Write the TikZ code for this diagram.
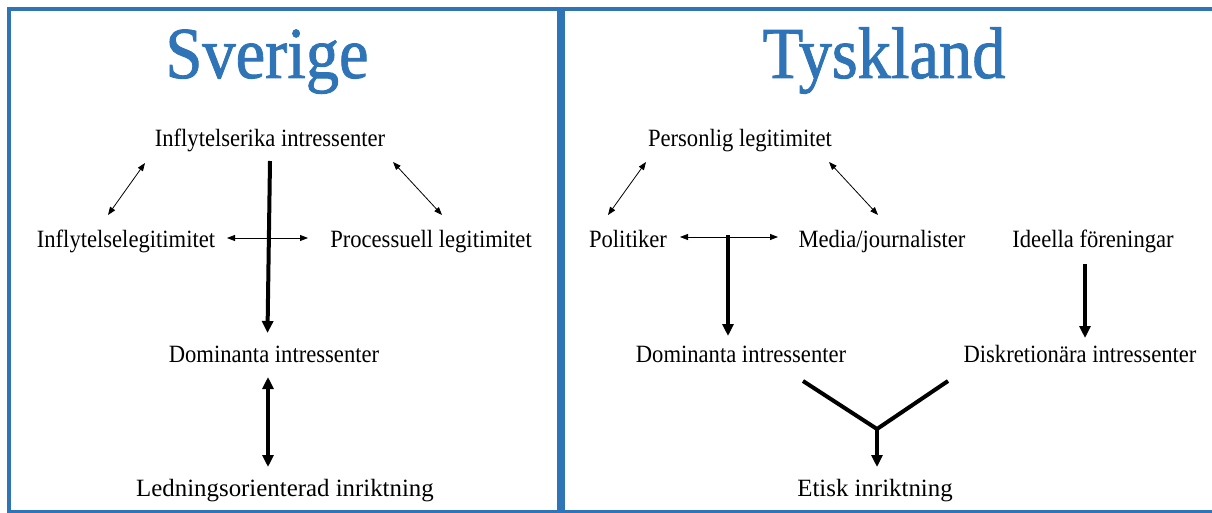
\documentclass[tikz,border=0pt]{standalone}
\usepackage{fontspec}
\setmainfont{Liberation Serif}
\newfontfamily\ttlfont[FakeBold=1.3]{Liberation Serif}
\usepackage{graphicx}
\usetikzlibrary{arrows.meta}
\definecolor{frameblue}{RGB}{46,116,182}
\newcommand{\tx}[1]{\scalebox{1}[1.1]{#1}}
\newcommand{\txw}[1]{\scalebox{1.1}[1.1]{#1}}
\tikzset{
  lbl/.style={anchor=base, inner sep=0pt, font=\fontsize{22.6}{26}\selectfont},
  ttl/.style={anchor=base, inner sep=0pt, text=frameblue, font=\ttlfont\fontsize{66.5}{72}\selectfont},
  frame/.style={draw=frameblue, line cap=rect},
  thin/.style={line width=0.8pt, {Triangle[length=8pt,width=6pt]}-{Triangle[length=8pt,width=6pt]}},
  thick/.style={line width=4pt, -{Triangle[length=12pt,width=11pt]}},
  thickboth/.style={line width=4pt, {Triangle[length=12pt,width=11pt]}-{Triangle[length=12pt,width=11pt]}},
  plainthick/.style={line width=4pt},
}
\begin{document}
\begin{tikzpicture}[x=1pt,y=-1pt]
\useasboundingbox (0,0) rectangle (1212,513);
% frame
\draw[frame, line width=3.6pt] (9.2,8.8) -- (1214,8.8);
\draw[frame, line width=3.7pt] (9.2,8.8) -- (9.2,511.5);
\draw[frame, line width=3.4pt] (9.2,511.5) -- (1214,511.5);
\draw[draw=frameblue, line width=7.7pt] (561.2,7) -- (561.2,513);
% titles
\node[ttl] (sv) at (267,78) {\tx{Sverige}};
\node[ttl] (ty) at (884,78) {\tx{Tyskland}};
% left labels
\node[lbl] (ii) at (270,147) {\tx{Inflytelserika intressenter}};
\node[lbl] (il) at (126,247) {\tx{Inflytelselegitimitet}};
\node[lbl] (pl) at (431,247) {\tx{Processuell legitimitet}};
\node[lbl] (di) at (274,362) {\tx{Dominanta intressenter}};
\node[lbl] (li) at (285,496.7) {\txw{Ledningsorienterad inriktning}};
% right labels
\node[lbl] (ple) at (740,147) {\tx{Personlig legitimitet}};
\node[lbl] (po) at (628,247) {\tx{Politiker}};
\node[lbl] (mj) at (882,247) {\tx{Media/journalister}};
\node[lbl] (if) at (1093,247) {\tx{Ideella föreningar}};
\node[lbl] (dr) at (741,362) {\tx{Dominanta intressenter}};
\node[lbl] (dk) at (1080,362) {\tx{Diskretionära intressenter}};
\node[lbl] (ei) at (875,496.7) {\txw{Etisk inriktning}};
% coordinates left
\coordinate (a1) at (108,215); \coordinate (a2) at (145,163);
\coordinate (b1) at (393,162); \coordinate (b2) at (442,215);
\coordinate (h1) at (227,238); \coordinate (h2) at (308,238);
\coordinate (v1) at (270,161); \coordinate (v2) at (267.5,333);
\coordinate (w1) at (268,377); \coordinate (w2) at (268,467);
% coordinates right
\coordinate (c1) at (608,215); \coordinate (c2) at (646,162);
\coordinate (d1) at (829,162); \coordinate (d2) at (878,215);
\coordinate (k1) at (680,237); \coordinate (k2) at (778,237);
\coordinate (m1) at (728,235); \coordinate (m2) at (728,336);
\coordinate (n1) at (1085,264); \coordinate (n2) at (1085,338);
\coordinate (y1) at (803,381); \coordinate (y2) at (948,381);
\coordinate (yj) at (877,429); \coordinate (y3) at (877,467);
% left arrows
\draw[thin] (a1) -- (a2);
\draw[thin] (b1) -- (b2);
\draw[thin] (h1) -- (h2);
\draw[thick] (v1) -- (v2);
\draw[thickboth] (w1) -- (w2);
% right arrows
\draw[thin] (c1) -- (c2);
\draw[thin] (d1) -- (d2);
\draw[thin] (k1) -- (k2);
\draw[thick] (m1) -- (m2);
\draw[thick] (n1) -- (n2);
\draw[plainthick, line join=miter] (y1) -- (yj) -- (y2);
\draw[thick] (yj) -- (y3);
\end{tikzpicture}
\end{document}
